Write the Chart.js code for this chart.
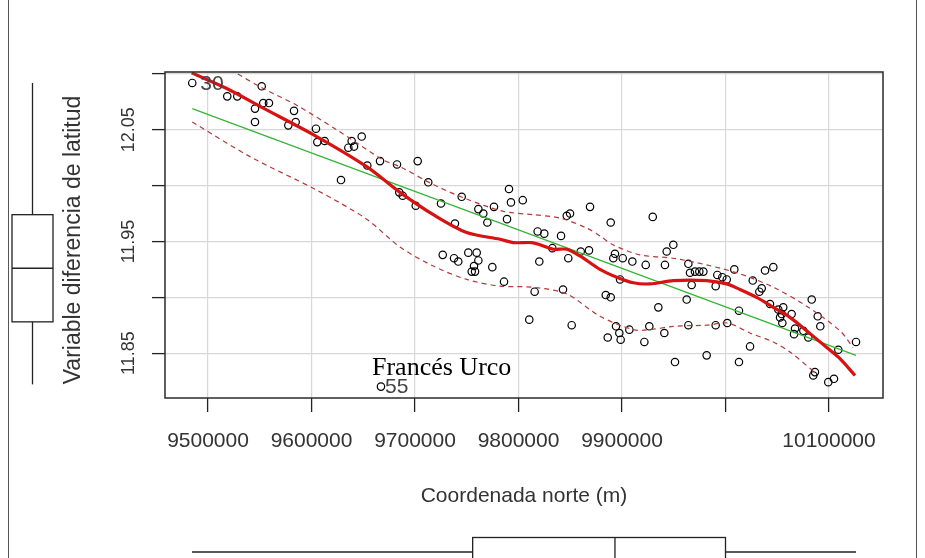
<!DOCTYPE html>
<html>
<head>
<meta charset="utf-8">
<script src="https://cdn.jsdelivr.net/npm/chart.js@4.4.1/dist/chart.umd.min.js"></script>
<style>
  html, body { margin: 0; padding: 0; background: #fff; }
  canvas { display: block; }
</style>
</head>
<body>
<canvas id="myChart" width="925" height="558"></canvas>
<script>
// observed points: coordenada norte (m) vs variable diferencia de latitud
const ptX = [
  9484800, 9518600, 9528300, 9551900, 9553400, 9558900, 9545400, 9545400, 9583100, 9584700,
  9577600, 9604300, 9605600, 9612700, 9628500, 9638800, 9635600, 9641100, 9648500, 9666200,
  9653900, 9682600, 9684800, 9702600, 9712800, 9688100, 9700700, 9725100, 9745100, 9738600,
  9761200, 9766000, 9769900, 9776300, 9790800, 9792700, 9804100, 9788900, 9818500, 9824900,
  9841100, 9846600, 9849800, 9869100, 9889100, 9929700, 9726800, 9737700, 9741800, 9751500,
  9759600, 9761200, 9757000, 9754800, 9758000, 9774700, 9786000, 9820100, 9815600, 9810400,
  9832700, 9848100, 9860100, 9868100, 9843000, 9851400, 9884300, 9889100, 9893200, 9891600,
  9900700, 9910000, 9922900, 9898100, 9894200, 9897400, 9898700, 9886200, 9907100, 9921600,
  9926400, 9949600, 9943200, 9941500, 9964100, 9965700, 9970500, 9974700, 9978600, 9967300,
  9992100, 9996900, 10001200, 9990500, 10008500, 10038200, 10046200, 10026300, 10035000, 10032700,
  9962500, 9935100, 10013000, 10043000, 10051000, 10055800, 10054300, 10052700, 10063900, 10054900,
  10083300, 10089100, 10091600, 10067200, 10066200, 10075200, 10080000, 9940900, 9964100, 9990500,
  10001700, 10023700, 10109000, 10126100, 9981800, 9951200, 10013000, 10086400, 10084800, 10099300,
  10104800, 9667100
];
const ptY = [
  12.092, 12.080, 12.080, 12.089, 12.074, 12.074, 12.069, 12.057, 12.067, 12.057,
  12.054, 12.051, 12.039, 12.040, 12.005, 12.040, 12.034, 12.035, 12.044, 12.022,
  12.018, 12.019, 11.994, 12.022, 12.003, 11.991, 11.982, 11.984, 11.990, 11.966,
  11.979, 11.975, 11.967, 11.981, 11.997, 11.985, 11.987, 11.970, 11.959, 11.957,
  11.955, 11.973, 11.975, 11.981, 11.967, 11.972, 11.938, 11.935, 11.932, 11.940,
  11.940, 11.933, 11.928, 11.923, 11.923, 11.927, 11.914, 11.932, 11.905, 11.880,
  11.944, 11.935, 11.941, 11.942, 11.907, 11.875, 11.902, 11.900, 11.939, 11.935,
  11.935, 11.932, 11.929, 11.916, 11.874, 11.868, 11.862, 11.864, 11.871, 11.860,
  11.874, 11.947, 11.941, 11.929, 11.930, 11.922, 11.923, 11.923, 11.923, 11.911,
  11.920, 11.918, 11.916, 11.910, 11.925, 11.924, 11.927, 11.915, 11.908, 11.905,
  11.898, 11.891, 11.888, 11.894, 11.889, 11.891, 11.885, 11.882, 11.885, 11.877,
  11.898, 11.883, 11.874, 11.872, 11.867, 11.870, 11.864, 11.868, 11.875, 11.875,
  11.877, 11.856, 11.853, 11.860, 11.848, 11.842, 11.842, 11.833, 11.830, 11.824,
  11.827, 11.820
];
// identified points
const labelIdx = [0, 131];
const labelText = ['30', '55'];

// linear fit (green)
const fitX = [9484800, 10126100];
const fitY = [12.069, 11.848];

// smoother (thick red)
const smoothX = [9484200, 9518100, 9550200, 9605000, 9653300, 9685500, 9717700, 9749900, 9782100, 9795000,
  9812700, 9820800, 9833600, 9846600, 9859400, 9878700, 9894900, 9910900, 9927000, 9949600,
  9981800, 10001100, 10014000, 10030100, 10046200, 10062300, 10078400, 10097800, 10110600, 10125100];
const smoothY = [12.101, 12.087, 12.071, 12.044, 12.017, 11.994, 11.974, 11.958, 11.952, 11.949,
  11.949, 11.947, 11.943, 11.943, 11.937, 11.925, 11.918, 11.913, 11.912, 11.915,
  11.915, 11.912, 11.907, 11.900, 11.891, 11.882, 11.870, 11.855, 11.845, 11.830];

// spread bands (dashed red)
const upperX = [9521300, 9553400, 9585700, 9624300, 9669400, 9685500, 9717700, 9749900, 9785300, 9814300,
  9840100, 9865900, 9878700, 9891300, 9917400, 9949300, 9981800, 10014000, 10046200, 10078400,
  10110600, 10123200];
const upperY = [12.104, 12.087, 12.072, 12.050, 12.023, 12.017, 12.001, 11.988, 11.977, 11.974,
  11.971, 11.962, 11.955, 11.947, 11.938, 11.935, 11.929, 11.921, 11.909, 11.892,
  11.870, 11.855];
const lowerX = [9484800, 9540600, 9605000, 9653300, 9685500, 9717700, 9749900, 9782100, 9814300, 9846600,
  9878700, 9910900, 9927000, 9949600, 9981800, 10001700, 10023700, 10046200, 10062300, 10084800,
  10088100];
const lowerY = [12.057, 12.026, 11.996, 11.970, 11.945, 11.928, 11.916, 11.910, 11.909, 11.903,
  11.883, 11.871, 11.871, 11.874, 11.875, 11.877, 11.868, 11.860, 11.851, 11.834,
  11.832];

// marginal boxplots: [low whisker, q1, median, q3, high whisker]
const yBox = [11.822, 11.878, 11.926, 11.974, 12.092];
const xBox = [9484500, 9755700, 9893200, 10000000, 10126100];

// axes
const xTicks = [9500000, 9600000, 9700000, 9800000, 9900000, 10000000, 10100000];
const xTickLabels = ['9500000', '9600000', '9700000', '9800000', '9900000', '', '10100000'];
const yTicks = [11.85, 11.90, 11.95, 12.00, 12.05, 12.10];
const yTickLabels = ['11.85', '', '11.95', '', '12.05', ''];
const xTitle = 'Coordenada norte (m)';
const yTitle = 'Variable diferencia de latitud';
const note = 'Francés Urco';

const pairs = (xs, ys) => xs.map((v, i) => ({ x: v, y: ys[i] }));

const rDecor = {
  id: 'rDecor',
  afterDraw(chart) {
    const { ctx, chartArea: a, scales: { x, y } } = chart;
    const seg = (x1, y1, x2, y2) => { ctx.beginPath(); ctx.moveTo(x1, y1); ctx.lineTo(x2, y2); ctx.stroke(); };
    ctx.save();

    // plot box
    ctx.strokeStyle = '#2b2b2b';
    ctx.lineWidth = 1.5;
    ctx.strokeRect(a.left, a.top, a.right - a.left, a.bottom - a.top);

    // tick labels
    ctx.fillStyle = '#333';
    ctx.textAlign = 'center';
    ctx.textBaseline = 'middle';
    ctx.font = '21px "Liberation Sans", Arial, sans-serif';
    xTicks.forEach((v, i) => {
      if (xTickLabels[i]) ctx.fillText(xTickLabels[i], x.getPixelForValue(v), 441);
    });
    ctx.font = '18px "Liberation Sans", Arial, sans-serif';
    yTicks.forEach((v, i) => {
      if (!yTickLabels[i]) return;
      ctx.save();
      ctx.translate(129, y.getPixelForValue(v));
      ctx.rotate(-Math.PI / 2);
      ctx.fillText(yTickLabels[i], 0, 0);
      ctx.restore();
    });

    // axis titles
    ctx.font = '21px "Liberation Sans", Arial, sans-serif';
    ctx.fillText(xTitle, (a.left + a.right) / 2, 496);
    ctx.save();
    ctx.translate(74, 240);
    ctx.rotate(-Math.PI / 2);
    ctx.font = '23px "Liberation Sans", Arial, sans-serif';
    ctx.fillText(yTitle, 0, 0);
    ctx.restore();

    // point ids
    ctx.fillStyle = '#444';
    ctx.textAlign = 'left';
    ctx.font = '21px "Liberation Sans", Arial, sans-serif';
    labelIdx.forEach((k, i) => {
      const gap = i === 0 ? 8 : 4;
      ctx.fillText(labelText[i], x.getPixelForValue(ptX[k]) + gap, y.getPixelForValue(ptY[k]) + 1);
    });

    // annotation
    ctx.fillStyle = '#000';
    ctx.textBaseline = 'alphabetic';
    ctx.font = '26px "Liberation Serif", "Times New Roman", serif';
    ctx.fillText(note, 372, 375);

    // left boxplot (y)
    ctx.strokeStyle = '#222';
    ctx.lineWidth = 1.3;
    const bx = 32.5, bw = 20.5;
    seg(bx, y.getPixelForValue(yBox[0]), bx, y.getPixelForValue(yBox[1]));
    seg(bx, y.getPixelForValue(yBox[3]), bx, y.getPixelForValue(yBox[4]));
    const t = y.getPixelForValue(yBox[3]), b = y.getPixelForValue(yBox[1]);
    ctx.strokeRect(bx - bw, t, 2 * bw, b - t);
    seg(bx - bw, y.getPixelForValue(yBox[2]), bx + bw, y.getPixelForValue(yBox[2]));

    // bottom boxplot (x)
    const wy = 552, top = 537.5;
    seg(x.getPixelForValue(xBox[0]), wy, x.getPixelForValue(xBox[1]), wy);
    seg(x.getPixelForValue(xBox[3]), wy, x.getPixelForValue(xBox[4]), wy);
    const l = x.getPixelForValue(xBox[1]), r = x.getPixelForValue(xBox[3]);
    ctx.strokeRect(l, top, r - l, 40);
    seg(x.getPixelForValue(xBox[2]), top, x.getPixelForValue(xBox[2]), top + 40);

    // outer frame
    ctx.strokeStyle = '#555';
    ctx.lineWidth = 1;
    seg(8.5, 0, 8.5, 558);
    seg(916.5, 0, 916.5, 558);

    ctx.restore();
  }
};

const config = {
  type: 'scatter',
  data: {
    datasets: [
      {
        data: pairs(smoothX, smoothY), showLine: true, borderColor: '#d81212', borderWidth: 3.2,
        pointRadius: 0, tension: 0.3, order: 1
      },
      {
        data: pairs(fitX, fitY), showLine: true, borderColor: '#33b533', borderWidth: 1.2,
        pointRadius: 0, order: 2
      },
      {
        data: pairs(upperX, upperY), showLine: true, borderColor: '#b23a3a', borderWidth: 1.2,
        borderDash: [5, 4], pointRadius: 0, tension: 0.3, order: 3
      },
      {
        data: pairs(lowerX, lowerY), showLine: true, borderColor: '#b23a3a', borderWidth: 1.2,
        borderDash: [5, 4], pointRadius: 0, tension: 0.3, order: 3
      },
      {
        data: pairs(ptX, ptY), pointStyle: 'circle', pointRadius: 3.7, borderColor: '#000',
        backgroundColor: 'rgba(0,0,0,0)', borderWidth: 1.2, order: 5
      }
    ]
  },
  options: {
    responsive: false,
    animation: false,
    layout: { padding: { top: 72, right: 42, left: 0, bottom: 0 } },
    plugins: { legend: { display: false }, tooltip: { enabled: false } },
    scales: {
      x: {
        type: 'linear', min: 9458450, max: 10152170,
        grid: { color: '#d8d8d8', lineWidth: 1.2, tickColor: '#222', tickLength: 14, tickWidth: 1.3 },
        border: { display: false },
        ticks: { display: false },
        afterBuildTicks: s => { s.ticks = xTicks.map(v => ({ value: v })); },
        afterFit: s => { s.height = 160; }
      },
      y: {
        type: 'linear', min: 11.8098, max: 12.1018,
        grid: { color: '#d8d8d8', lineWidth: 1.2, tickColor: '#222', tickLength: 13, tickWidth: 1.3 },
        border: { display: false },
        ticks: { display: false },
        afterBuildTicks: s => { s.ticks = yTicks.map(v => ({ value: v })); },
        afterFit: s => { s.width = 165; }
      }
    }
  },
  plugins: [rDecor]
};

const myChart = new Chart(document.getElementById('myChart'), config);
</script>
</body>
</html>
